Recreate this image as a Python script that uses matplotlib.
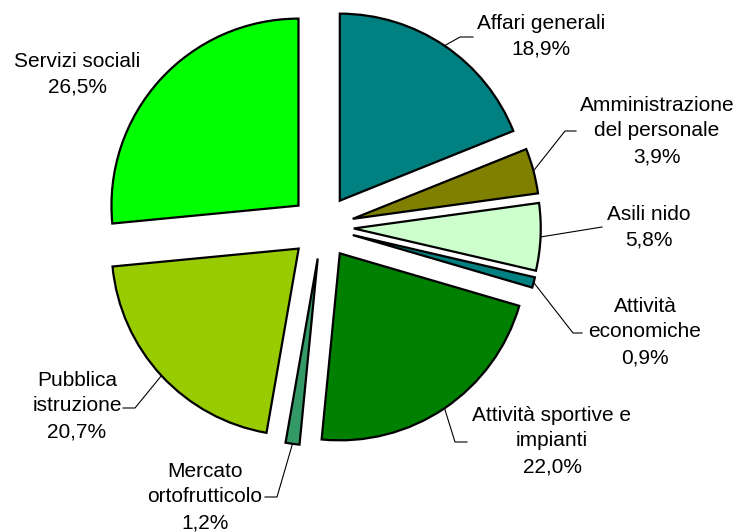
import numpy as np
import matplotlib
matplotlib.use("Agg")
import matplotlib.pyplot as plt

plt.rcParams['font.family'] = ['Liberation Sans', 'DejaVu Sans']

# data
categories = ["Affari generali", "Amministrazione\ndel personale", "Asili nido",
              "Attività\neconomiche", "Attività sportive e\nimpianti",
              "Mercato\nortofrutticolo", "Pubblica\nistruzione", "Servizi sociali"]
shares = [18.9, 3.9, 5.8, 0.9, 22.0, 1.2, 20.7, 26.5]
colors = ["#008080", "#808000", "#CCFFCC", "#008080", "#008000",
          "#339966", "#99CC00", "#00FF00"]

# layout (pixel coords of the reference image)
W, H = 744, 532
cx, cy, R = 322, 227, 187          # pie centre and radius in px
label_pos = [(541, 36), (657, 131), (649, 227), (645, 332),
             (552, 441), (205, 497), (77, 406), (77, 74)]
# leader line: (elbow, end) in px, None for no leader
leaders = [((460, 37), (473, 37)), ((565, 131), (576, 131)),
           ((602, 227), (602, 227)), ((573, 333), (582, 333)),
           ((455, 442), (467, 442)), ((277, 497), (265, 497)),
           ((135, 408), (123, 408)), None]


def px(x, y):
    return (x - cx) / R, (cy - y) / R


fig = plt.figure(figsize=(W / 100, H / 100), dpi=100)
ax = fig.add_axes([0, 0, 1, 1])

wedges, _ = ax.pie(shares, explode=[0.17] * len(shares), startangle=90,
                   counterclock=False, colors=colors, radius=1,
                   wedgeprops=dict(edgecolor='black', linewidth=1.6))

for w, name, val, pos, ld in zip(wedges, categories, shares, label_pos, leaders):
    txt = name + "\n" + f"{val:.1f}".replace(".", ",") + "%"
    tx, ty = px(*pos)
    ax.text(tx, ty, txt, ha='center', va='center', fontsize=15, linespacing=1.45)
    if ld is not None:
        ang = np.deg2rad((w.theta1 + w.theta2) / 2)
        sx = w.center[0] + w.r * np.cos(ang)
        sy = w.center[1] + w.r * np.sin(ang)
        ex, ey = px(*ld[0])
        fx, fy = px(*ld[1])
        ax.plot([sx, ex, fx], [sy, ey, fy], color='black', linewidth=0.8)

ax.set_xlim(-cx / R, (W - cx) / R)
ax.set_ylim(-(H - cy) / R, cy / R)
ax.set_aspect('equal')
ax.axis('off')

fig.savefig("out.png", dpi=100)
